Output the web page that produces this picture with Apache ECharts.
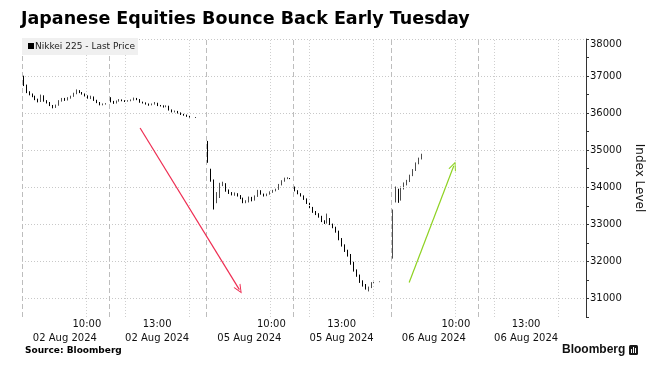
<!DOCTYPE html>
<html>
<head>
<meta charset="utf-8">
<title>Japanese Equities Bounce Back Early Tuesday</title>
<script src="https://cdn.jsdelivr.net/npm/echarts@6/dist/echarts.min.js"></script>
<style>
  html, body { margin: 0; padding: 0; background: #fff; }
  #chart { width: 659px; height: 377px; }
</style>
</head>
<body>
<div id="chart"></div>
<script>
// 5-minute bars, each [open, close, low, high]; null = no bar
const aug2Am = [
  [37010, 36760, 36730, 37010], [36760, 36560, 36540, 36770], [36560, 36510, 36480, 36590],
  [36510, 36450, 36430, 36530], [36450, 36370, 36350, 36470], [36370, 36310, 36290, 36390],
  [36310, 36470, 36300, 36500], [36470, 36330, 36310, 36480], [36330, 36290, 36260, 36350],
  [36290, 36210, 36190, 36300], [36210, 36170, 36130, 36220], [36170, 36210, 36140, 36230],
  [36210, 36330, 36200, 36350], [36330, 36390, 36310, 36410], [36390, 36350, 36330, 36410],
  [36350, 36410, 36340, 36430], [36410, 36450, 36390, 36470], [36450, 36530, 36440, 36550],
  [36530, 36610, 36510, 36640], [36610, 36560, 36540, 36620], [36560, 36520, 36500, 36570],
  [36520, 36470, 36450, 36530], [36470, 36410, 36390, 36480], [36410, 36440, 36380, 36470],
  [36440, 36350, 36330, 36450], [36350, 36290, 36270, 36360], [36290, 36230, 36210, 36300],
  [36230, 36240, 36210, 36260], [36240, 36250, 36230, 36270], null
];
const aug2Pm = [
  [36410, 36310, 36290, 36430], [36310, 36270, 36250, 36330], [36270, 36320, 36260, 36340],
  [36320, 36360, 36310, 36380], [36360, 36340, 36320, 36370], [36340, 36320, 36300, 36350],
  [36320, 36330, 36310, 36350], [36330, 36350, 36320, 36370], [36350, 36400, 36340, 36420],
  [36400, 36370, 36350, 36410], [36370, 36300, 36280, 36380], [36300, 36280, 36260, 36310],
  [36280, 36250, 36230, 36290], [36250, 36220, 36200, 36260], [36220, 36240, 36210, 36260],
  [36240, 36270, 36230, 36300], [36270, 36210, 36190, 36280], [36210, 36200, 36180, 36220],
  [36200, 36170, 36150, 36210], [36170, 36190, 36160, 36210], [36190, 36090, 36070, 36200],
  [36090, 36040, 36020, 36100], [36040, 36050, 36020, 36070], [36050, 36010, 35990, 36060],
  [36010, 35970, 35950, 36020], [35970, 35950, 35930, 35980], [35950, 35920, 35900, 35960],
  [35920, 35900, 35880, 35930], null, [35880, 35880, 35870, 35890]
];
const aug5Am = [
  [35250, 34720, 34660, 35250], [34500, 34200, 34150, 34500], [34200, 33600, 33400, 34210],
  [33600, 33730, 33570, 33870], [33730, 34080, 33710, 34120], [34080, 34100, 34030, 34150],
  [34100, 33910, 33880, 34110], [33910, 33850, 33820, 33940], [33850, 33810, 33780, 33870],
  [33810, 33830, 33770, 33860], [33830, 33780, 33750, 33840], [33780, 33710, 33680, 33790],
  [33710, 33600, 33570, 33720], [33600, 33610, 33570, 33650], [33610, 33730, 33590, 33750],
  [33730, 33650, 33620, 33740], [33650, 33750, 33640, 33780], [33750, 33910, 33740, 33930],
  [33910, 33820, 33800, 33920], [33820, 33770, 33750, 33830], [33770, 33810, 33760, 33830],
  [33810, 33870, 33800, 33890], [33870, 33910, 33850, 33930], [33910, 33940, 33890, 33960],
  [33940, 34070, 33930, 34090], [34070, 34170, 34050, 34190], [34170, 34240, 34150, 34260],
  [34240, 34250, 34220, 34270], [34250, 34230, 34220, 34250], null
];
const aug5Pm = [
  [34010, 33910, 33890, 34020], [33910, 33830, 33810, 33920], [33830, 33770, 33750, 33840],
  [33770, 33690, 33660, 33780], [33690, 33580, 33550, 33700], [33580, 33460, 33420, 33590],
  [33460, 33340, 33310, 33470], [33340, 33290, 33250, 33360], [33290, 33220, 33180, 33300],
  [33220, 33100, 33060, 33230], [33100, 33040, 33010, 33110], [33040, 33160, 33020, 33290],
  [33160, 33010, 32980, 33170], [33010, 32925, 32895, 33020], [32925, 32815, 32775, 32935],
  [32815, 32620, 32570, 32830], [32620, 32450, 32400, 32630], [32450, 32295, 32255, 32460],
  [32295, 32180, 32130, 32315], [32180, 31980, 31910, 32200], [31980, 31765, 31725, 31990],
  [31765, 31635, 31585, 31785], [31635, 31460, 31420, 31645], [31460, 31370, 31320, 31490],
  [31370, 31270, 31240, 31390], [31270, 31290, 31190, 31320], [31290, 31420, 31280, 31440],
  [31420, 31430, 31410, 31450], null, [31450, 31450, 31440, 31460]
];
const aug6Am = [
  [32075, 33300, 32075, 33400], [33600, 33950, 33590, 34020], [33950, 33650, 33580, 33960],
  [33650, 33970, 33640, 34020], [33970, 34080, 33940, 34130], [34080, 34170, 34050, 34200],
  [34170, 34320, 34140, 34340], [34320, 34460, 34300, 34490], [34460, 34640, 34440, 34670],
  [34640, 34770, 34620, 34800], [34770, 34870, 34750, 34905]
];

// session opens on the compressed trading-minute axis
const sessionStart = [0, 148, 314, 462, 628];
const sessionBars = [aug2Am, aug2Pm, aug5Am, aug5Pm, aug6Am];
const barMinutes = 5;

// axis labels and grid lines
const labelPos = [73, 230, 387, 544, 701, 858];
const labelTimes = ['10:00', '13:00', '10:00', '13:00', '10:00', '13:00'];
const labelDates = ['02 Aug 2024', '02 Aug 2024', '05 Aug 2024', '05 Aug 2024', '06 Aug 2024', '06 Aug 2024'];
const dashedX = [0, 148, 314, 462, 628, 776];
const dottedX = [109, 175, 284, 423, 489, 598, 737, 803, 912];
const yTicks = [31000, 32000, 33000, 34000, 35000, 36000, 37000, 38000];
const yMinorTicks = [30500, 31500, 32500, 33500, 34500, 35500, 36500, 37500];

// annotation arrows [[x, y] start, [x, y] end]
const arrowDown = [[201, 35600], [370, 31240]];
const arrowUp = [[659, 31430], [735, 34580]];

const candles = [];
sessionBars.forEach((bars, s) => {
  bars.forEach((b, i) => {
    if (b) candles.push([sessionStart[s] + barMinutes * i + barMinutes / 2].concat(b));
  });
});

const font = 'DejaVu Sans';
const chevron = 'path://M5,0 L10,10 L8.6,10 L5,2.6 L1.4,10 L0,10 Z';

const gridLines = [];
yTicks.forEach(v => gridLines.push({ yAxis: v, lineStyle: { color: '#c8c8c8', type: [1, 2], width: 1 } }));
dottedX.forEach(v => gridLines.push({ xAxis: v, lineStyle: { color: '#cfcfcf', type: [1, 2], width: 1 } }));
dashedX.forEach(v => gridLines.push({ xAxis: v, lineStyle: { color: '#bdbdbd', type: [5, 3], width: 1 } }));

function arrowLine(pts, color) {
  return [
    { coord: pts[0], symbol: 'none', lineStyle: { color: color, width: 1.2, type: 'solid' } },
    { coord: pts[1], symbol: chevron, symbolSize: [8, 9] }
  ];
}

const chart = echarts.init(document.getElementById('chart'));
chart.setOption({
  animation: false,
  textStyle: { fontFamily: font },
  grid: { left: 22, right: 73, top: 39, bottom: 60 },
  xAxis: {
    type: 'value',
    min: 0,
    max: 960,
    axisLine: { show: false, onZero: false },
    axisTick: { show: false },
    splitLine: { show: false },
    axisLabel: {
      customValues: labelPos,
      margin: 0,
      formatter: function (v) {
        const i = labelPos.indexOf(v);
        if (i < 0) return '';
        const t = labelTimes[i] === '10:00' ? 'ts' : 't';
        return '{' + t + '|' + labelTimes[i] + '}\n{d|' + labelDates[i] + '}';
      },
      rich: {
        t: { fontSize: 10, lineHeight: 14, color: '#111', fontFamily: font },
        ts: { fontSize: 10, lineHeight: 14, color: '#111', fontFamily: font, padding: [0, 0, 0, 44] },
        d: { fontSize: 10, lineHeight: 14, color: '#111', fontFamily: font }
      }
    }
  },
  yAxis: {
    type: 'value',
    position: 'right',
    min: 30500,
    max: 38000,
    name: 'Index Level',
    nameLocation: 'middle',
    nameRotate: -90,
    nameGap: 39,
    nameTextStyle: { fontSize: 12, color: '#111', fontFamily: font },
    axisLine: { show: true, onZero: false, lineStyle: { color: '#333', width: 1 } },
    axisTick: { show: true, length: 3, customValues: yTicks.concat(yMinorTicks), lineStyle: { color: '#333' } },
    splitLine: { show: false },
    axisLabel: {
      customValues: yTicks,
      margin: 4,
      fontSize: 10,
      color: '#111',
      formatter: function (v) {
        return v === 38000 ? '{top|' + v + '}' : String(v);
      },
      rich: { top: { fontSize: 10, color: '#111', fontFamily: font, padding: [10, 0, 0, 0] } }
    }
  },
  series: [{
    type: 'line',
    data: [],
    z: 1,
    silent: true,
    markLine: {
      silent: true,
      symbol: 'none',
      label: { show: false },
      emphasis: { disabled: true },
      data: gridLines
    }
  }, {
    name: 'Nikkei 225 - Last Price',
    type: 'candlestick',
    z: 3,
    barWidth: 1.2,
    encode: { x: 0, y: [1, 2, 3, 4] },
    itemStyle: {
      color: '#4d4d4d',
      color0: '#000',
      borderColor: '#4d4d4d',
      borderColor0: '#000',
      borderWidth: 1
    },
    data: candles
  }, {
    type: 'line',
    data: [],
    z: 5,
    silent: true,
    markLine: {
      silent: true,
      label: { show: false },
      emphasis: { disabled: true },
      data: [
        arrowLine(arrowDown, '#ee2d52'),
        arrowLine(arrowUp, '#8ed222')
      ]
    }
  }],
  graphic: [
    {
      type: 'text', left: 21, top: 10, z: 20,
      style: { text: 'Japanese Equities Bounce Back Early Tuesday', font: 'bold 17.5px "DejaVu Sans"', fill: '#000' }
    },
    {
      type: 'rect', z: 20, shape: { x: 22, y: 38, width: 116, height: 17 },
      style: { fill: '#f0f0f0' }
    },
    {
      type: 'rect', z: 21, shape: { x: 28, y: 43, width: 6, height: 6 },
      style: { fill: '#000' }
    },
    {
      type: 'text', z: 21, x: 35, y: 46.5,
      style: { text: 'Nikkei 225 - Last Price', font: '9px "DejaVu Sans"', fill: '#222', verticalAlign: 'middle' }
    },
    {
      type: 'text', z: 21, x: 25, y: 351,
      style: { text: 'Source: Bloomberg', font: 'bold 9px "DejaVu Sans"', fill: '#000', verticalAlign: 'middle' }
    },
    {
      type: 'text', z: 21, x: 562, y: 350,
      style: { text: 'Bloomberg', font: 'bold 12px "Liberation Sans"', fill: '#111', verticalAlign: 'middle' }
    },
    {
      type: 'rect', z: 21, shape: { x: 629, y: 345, width: 9, height: 10, r: 1.5 },
      style: { fill: '#1a1a1a' }
    },
    {
      type: 'rect', z: 22, shape: { x: 631, y: 349, width: 1, height: 4 },
      style: { fill: '#fff' }
    },
    {
      type: 'rect', z: 22, shape: { x: 633, y: 347, width: 1, height: 6 },
      style: { fill: '#fff' }
    },
    {
      type: 'rect', z: 22, shape: { x: 635, y: 348, width: 1, height: 5 },
      style: { fill: '#fff' }
    }
  ]
});
</script>
</body>
</html>
